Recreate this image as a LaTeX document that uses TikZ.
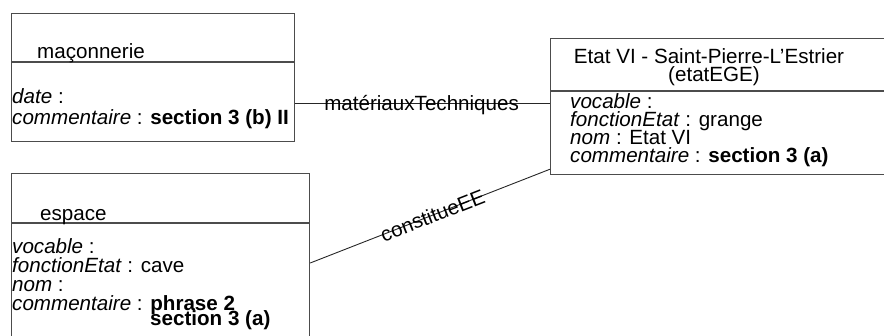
\documentclass[tikz,border=0pt]{standalone}
\usepackage{fontspec}
\setmainfont{Liberation Sans}
\usetikzlibrary{positioning,calc}

\begin{document}
\begin{tikzpicture}[x=1pt,y=-1pt,
    every node/.style={font=\fontsize{20.6}{18.4}\selectfont, inner sep=0pt},
    umlbox/.style={draw=black!70, line width=1.2pt, rectangle, anchor=north west},
    divider/.style={draw=black!70, line width=1.2pt},
    attr/.style={anchor=base west},
    link/.style={draw=black!85, line width=0.9pt},
    linklabel/.style={anchor=center}]
  \useasboundingbox (0,0) rectangle (884,335);
  \clip (0,0) rectangle (884,335);
  % classes
  \node[umlbox, minimum width=283pt, minimum height=128pt] (maconnerie) at (11,13) {};
  \node[umlbox, minimum width=298pt, minimum height=180pt] (espace) at (11,173) {};
  \node[umlbox, minimum width=345pt, minimum height=136pt] (etat) at (550,38) {};
  \draw[divider] (maconnerie.west |- 0,62) -- (maconnerie.east |- 0,62);
  \draw[divider] (espace.west |- 0,223) -- (espace.east |- 0,223);
  \draw[divider] (etat.west |- 0,91) -- (etat.east |- 0,91);
  % titles
  \node[attr] (maconnerieName) at (37,58) {maçonnerie};
  \node[attr] (espaceName) at (40,220) {espace};
  \node[anchor=base] (etatName) at (709,63) {Etat VI - Saint-Pierre-L'Estrier};
  \node[anchor=base] (etatKey) at (714,81) {(etatEGE)};
  % attributes
  \node[attr] (maconnerieDate) at (12,103) {\textit{date} :};
  \node[attr] (maconnerieComm) at (12,124) {\textit{commentaire} : \textbf{section 3 (b) II}};
  \foreach \txt [count=\i] in {\textit{vocable} :, \textit{fonctionEtat} : cave,
      \textit{nom} :, \textit{commentaire} : \textbf{phrase 2}}
    \node[attr] (espaceAttr\i) at (12,{253+19*(\i-1)}) {\txt};
  \node[attr] (espaceComm) at (150,325) {\textbf{section 3 (a)}};
  \foreach \txt [count=\i] in {\textit{vocable} :, \textit{fonctionEtat} : grange,
      \textit{nom} : Etat VI, \textit{commentaire} : \textbf{section 3 (a)}}
    \node[attr] (etatAttr\i) at (570,{108+18.3*(\i-1)}) {\txt};
  % links
  \coordinate (mtStart) at ($(maconnerie.north east)!0.703!(maconnerie.south east)$);
  \draw[link] (mtStart) -- node[linklabel, pos=0.496, yshift=-1.5pt] {matériauxTechniques} (etat.west |- mtStart);
  \draw[link] ([yshift=-90pt]espace.north east) -- node[linklabel, sloped, pos=0.51] {constitueEE} ([yshift=6pt]etat.south west);
\end{tikzpicture}
\end{document}
